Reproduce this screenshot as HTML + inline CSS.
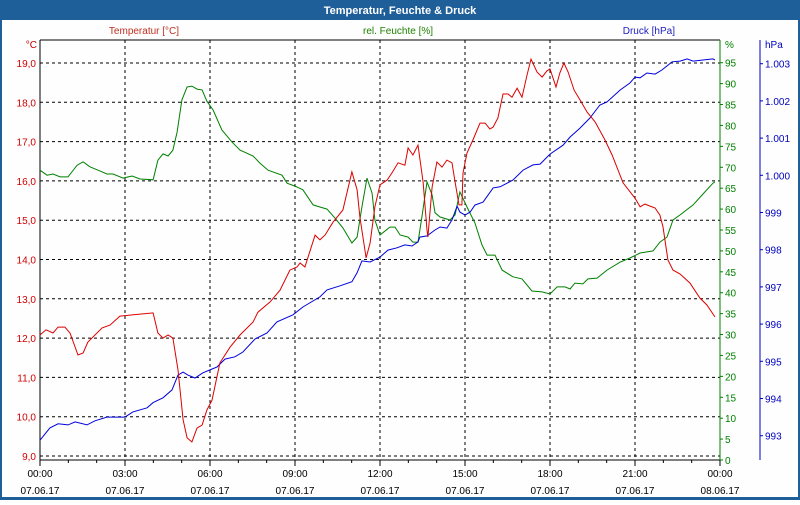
<!DOCTYPE html>
<html><head><meta charset="utf-8"><style>
body{margin:0;background:#fff}
svg text{font-family:"Liberation Sans",sans-serif;font-size:10px}
</style></head><body>
<svg id="chart" width="800" height="500" viewBox="0 0 800 500" xmlns="http://www.w3.org/2000/svg">
<rect x="0" y="0" width="800" height="500" fill="#1f5f99"/>
<rect x="2" y="20" width="796" height="477" fill="#fdfefd"/>
<text x="400" y="14" text-anchor="middle" fill="#fff" font-weight="bold" style="font-size:11px">Temperatur, Feuchte &amp; Druck</text>
<text x="144" y="34" text-anchor="middle" fill="#c03020">Temperatur [°C]</text>
<text x="398" y="34" text-anchor="middle" fill="#208000">rel. Feuchte [%]</text>
<text x="675" y="34" text-anchor="end" fill="#2020c0">Druck [hPa]</text>
<text x="37" y="48" text-anchor="end" fill="#c00000">°C</text>
<text x="725" y="48" fill="#008000">%</text>
<text x="765" y="48" fill="#0000c0">hPa</text>
<g id="grid"></g>
<g id="axes"></g>
<g id="series"></g>
</svg>
<script>
const tempTimes=[0,0.21,0.46,0.64,0.88,1.06,1.34,1.52,1.69,2.19,2.47,2.82,3.99,4.16,4.34,4.52,4.69,4.87,5.05,5.19,5.36,5.54,5.72,5.89,6.07,6.35,6.71,7.06,7.52,7.69,8.12,8.47,8.82,9.07,9.18,9.35,9.71,9.88,
10.06,10.34,10.69,11.01,11.19,11.29,11.51,11.65,11.82,12.0,12.25,12.42,12.64,12.88,12.99,13.16,13.34,13.52,13.66,13.69,13.84,14.01,14.19,14.36,14.54,14.65,14.79,14.89,14.93,15.07,15.28,15.53,15.71,15.88,15.99,16.16,16.34,16.52,16.66,16.84,17.01,17.19,17.33,17.54,17.72,17.89,18.0,18.21,18.35,18.49,18.64,18.85,19.06,19.31,19.59,19.94,20.19,20.58,21.0,21.18,21.35,21.71,21.88,21.99,22.16,22.34,22.59,22.94,23.29,23.54,23.82];
const tempValues=[12.08,12.21,12.13,12.28,12.28,12.13,11.57,11.62,11.9,12.26,12.33,12.56,12.64,12.13,12.0,12.08,12.0,11.19,9.92,9.46,9.36,9.71,9.79,10.17,10.42,11.37,11.77,12.08,12.41,12.66,12.92,13.22,13.73,13.81,13.91,13.81,14.62,14.5,
14.62,14.95,15.26,16.23,15.77,15.08,14.04,14.42,15.34,15.9,16.02,16.2,16.46,16.4,16.84,16.66,16.91,15.97,14.75,14.57,15.84,16.48,16.35,16.53,16.46,15.97,15.39,15.39,16.2,16.71,17.04,17.47,17.47,17.32,17.37,17.6,18.21,18.21,18.13,18.36,18.13,18.69,19.1,18.77,18.64,18.8,18.85,18.39,18.75,19.0,18.77,18.31,18.06,17.75,17.5,17.04,16.66,15.95,15.56,15.34,15.41,15.31,15.13,14.83,13.99,13.73,13.63,13.4,13.02,12.84,12.54];
const humTimes=[0,0.25,0.46,0.71,0.99,1.31,1.52,1.76,2.05,2.36,2.58,2.93,3.25,3.53,3.99,4.16,4.34,4.52,4.69,4.84,5.01,5.19,5.36,5.54,5.72,5.89,6.11,6.42,6.78,7.06,7.52,7.76,8.05,8.54,8.72,9.0,9.28,9.64,9.88,10.13,10.41,10.69,11.01,11.19,11.36,11.54,11.72,11.82,12.0,12.35,12.53,12.71,12.99,13.16,13.34,13.48,13.66,13.84,13.94,14.12,14.47,14.65,14.82,15.07,15.35,15.6,15.78,16.06,16.31,16.69,17.01,17.36,17.72,18.0,18.25,18.53,18.71,18.88,19.16,19.34,19.66,20.01,20.47,20.82,21.18,21.64,21.88,22.13,22.34,22.59,23.05,23.4,23.75,23.82];
const humValues=[69.3,68.1,68.4,67.7,67.7,70.5,71.3,70.1,69.3,68.4,68.4,67.4,67.9,67.2,67.0,71.7,73.2,72.7,74.1,78.4,86.1,89.2,89.4,88.7,88.5,85.8,83.7,78.9,76.0,74.1,72.7,71.0,69.3,68.1,66.2,65.5,64.6,61.0,60.5,60.0,57.9,55.5,51.9,53.3,60.5,67.4,63.8,57.4,53.8,55.7,55.7,53.8,53.3,52.1,52.1,58.1,66.5,63.4,59.1,58.1,57.4,58.6,64.1,60.5,56.7,51.4,49.0,49.0,45.4,43.8,43.3,40.4,40.2,39.7,41.4,41.4,40.9,42.3,42.1,43.3,43.5,45.4,47.3,48.3,49.5,50.0,52.1,53.3,57.4,58.6,61.0,63.6,66.2,66.5];
const presTimes=[0,0.35,0.64,0.99,1.24,1.66,1.94,2.36,3.0,3.28,3.78,3.99,4.34,4.66,4.87,5.05,5.22,5.47,5.75,6.0,6.25,6.53,6.88,7.16,7.59,8.01,8.36,8.93,9.28,9.88,10.13,10.59,11.01,11.19,11.36,11.65,12.0,12.28,12.6,12.88,13.13,13.34,13.41,13.66,13.94,14.12,14.36,14.54,14.72,14.82,15.0,15.18,15.35,15.64,15.99,16.24,16.69,17.05,17.4,17.65,18.0,18.46,18.71,19.06,19.41,19.76,20.01,20.47,20.82,21.0,21.18,21.42,21.71,21.95,22.31,22.59,22.84,23.05,23.4,23.75,23.82];
const presValues=[992.88,993.21,993.32,993.29,993.37,993.29,993.40,993.50,993.50,993.64,993.75,993.89,994.02,994.23,994.63,994.71,994.63,994.55,994.69,994.77,994.85,995.06,995.12,995.25,995.60,995.76,996.06,996.25,996.46,996.73,996.92,997.03,997.14,997.38,997.70,997.67,997.80,997.99,998.05,998.13,998.10,998.21,998.34,998.37,998.53,998.61,998.58,998.80,999.17,999.01,998.93,999.01,999.20,999.28,999.66,999.69,999.87,1000.14,1000.28,1000.30,1000.57,1000.81,1001.03,1001.27,1001.54,1001.89,1001.97,1002.29,1002.48,1002.64,1002.62,1002.75,1002.72,1002.83,1003.05,1003.07,1003.13,1003.07,1003.10,1003.13,1003.10];
const timeTicks=["00:00","03:00","06:00","09:00","12:00","15:00","18:00","21:00","00:00"];
const dateTicks=["07.06.17","07.06.17","07.06.17","07.06.17","07.06.17","07.06.17","07.06.17","07.06.17","08.06.17"];
const tempTicks=[9,10,11,12,13,14,15,16,17,18,19];
const humTicks=[0,5,10,15,20,25,30,35,40,45,50,55,60,65,70,75,80,85,90,95];
const presTicks=[993,994,995,996,997,998,999,1000,1001,1002,1003];
const presTickLabels=["993","994","995","996","997","998","999","1.000","1.001","1.002","1.003"];

const L=40,R=720,T=40,B=460;
const xS=h=>L+h*(R-L)/24;
const yT=v=>63+(19-v)*39.3;
const yH=v=>460-v*4.182;
const yP=v=>63.7+(1003-v)*37.2;
const NS="http://www.w3.org/2000/svg";
function mk(tag,parent,attrs){const e=document.createElementNS(NS,tag);for(const k in attrs)e.setAttribute(k,attrs[k]);parent.appendChild(e);return e;}
const grid=document.getElementById('grid'),axes=document.getElementById('axes'),series=document.getElementById('series');
tempTicks.forEach(v=>{const y=yT(v);
 const g=mk('line',grid,{x1:L,x2:R,y1:y,y2:y,stroke:'#000','stroke-dasharray':'3,3'});
 
 const t=mk('text',axes,{x:36,y:y+4,'text-anchor':'end',fill:'#d00000'});t.textContent=v.toFixed(1).replace('.',',');
 });
timeTicks.forEach((s,i)=>{const x=xS(i*3);
 if(i>0&&i<8){const g=mk('line',grid,{x1:x,x2:x,y1:T,y2:B,stroke:'#000','stroke-dasharray':'3,3'});
 }
 const t=mk('text',axes,{x:x,y:477,'text-anchor':'middle',fill:'#000'});t.textContent=s;
 
 const d=mk('text',axes,{x:x,y:494,'text-anchor':'middle',fill:'#000'});d.textContent=dateTicks[i];
 });
for(let h=0;h<=24;h++){const x=xS(h);const m=mk('line',axes,{x1:x,x2:x,y1:B,y2:B+(h%3?3:6),stroke:'#000'});
 }
humTicks.forEach(v=>{const y=yH(v);
 const m=mk('line',axes,{x1:R,x2:R+3,y1:y,y2:y,stroke:'#008000'});
 
 const t=mk('text',axes,{x:725,y:y+4,fill:'#008000'});t.textContent=v;
 });
presTicks.forEach((v,i)=>{const y=yP(v);
 const m=mk('line',axes,{x1:760,x2:763,y1:y,y2:y,stroke:'#0000c0'});
 
 const t=mk('text',axes,{x:765,y:y+4,fill:'#0000c0'});t.textContent=presTickLabels[i];
 });
const ax=[[L,T,R,T,'#000','plot-top-border'],[L,T,L,B,'#000','temperature-axis'],[L,B,R,B,'#000','time-axis'],[R,T,R,B,'#008000','humidity-axis'],[760,T,760,B,'#0000c0','pressure-axis']];
ax.forEach(a=>{const l=mk('line',axes,{x1:a[0],y1:a[1],x2:a[2],y2:a[3],stroke:a[4]});
 });
function line(ts,vs,ys,col,name){const p=mk('polyline',series,{points:ts.map((t,i)=>xS(t).toFixed(1)+','+ys(vs[i]).toFixed(1)).join(' '),fill:'none',stroke:col,'stroke-width':1});
 }
line(humTimes,humValues,yH,'#008000','humidity-line');
line(presTimes,presValues,yP,'#0000dd','pressure-line');
line(tempTimes,tempValues,yT,'#dd0000','temperature-line');
</script>
</body></html>
